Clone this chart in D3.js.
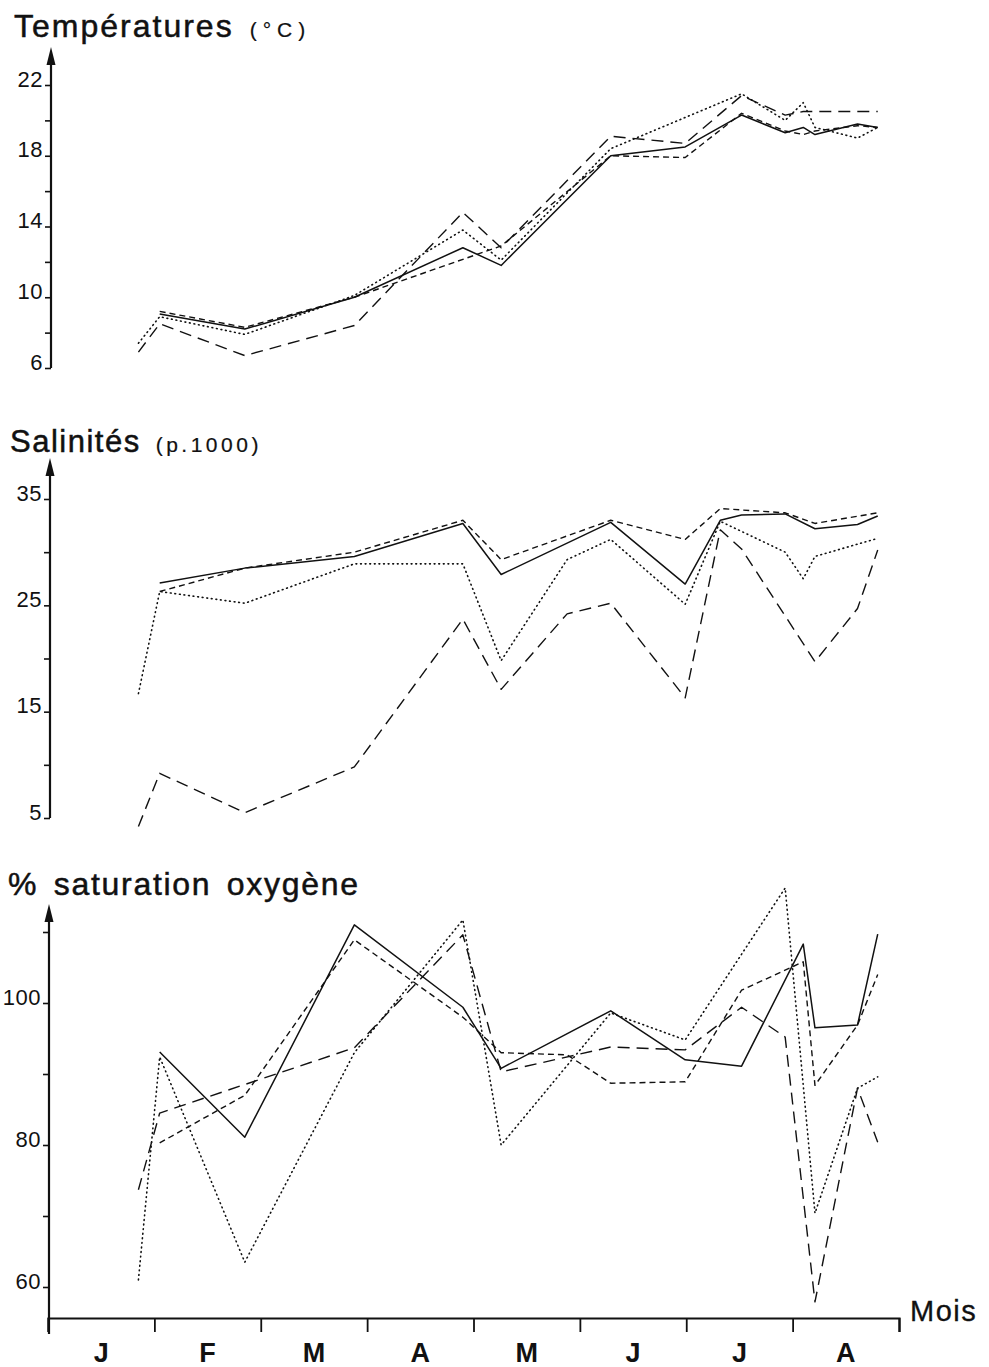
<!DOCTYPE html>
<html><head><meta charset="utf-8">
<script src="https://cdn.jsdelivr.net/npm/d3@7"></script>
<style>
body{margin:0;background:#fff}
svg{display:block}
text{font-family:"Liberation Sans",Arial,Helvetica,sans-serif;fill:#111}
</style>
</head><body>
<svg id="c" width="989" height="1367"></svg>
<script>
// Months on the time axis
const months = ["J","F","M","A","M","J","J","A"];
// Sampling dates, in months from 1 January
const sampleMonths = [0.85,1.05,1.85,2.88,3.90,4.26,4.88,5.29,5.99,6.32,6.52,6.93,7.10,7.21,7.61,7.80];

// Temperatures (°C)
const tempSolid  = [null,9.05,8.2,10.0,12.8,11.8,null,18.0,18.5,null,20.3,19.3,19.6,19.2,19.8,19.6];
const tempShort  = [null,9.2,8.3,10.0,null,12.9,null,18.0,17.9,null,20.4,19.4,19.2,19.4,19.7,19.6];
const tempLong   = [6.9,8.5,6.7,8.4,14.8,12.8,null,19.1,18.7,null,21.4,20.3,20.5,null,null,20.5];
const tempDotted = [7.4,8.9,7.9,10.1,13.8,12.1,null,18.4,null,null,21.5,20.0,21.0,19.6,19.0,19.6];
const tempTicks = [6,10,14,18,22];
const tempMinor = [8,12,16,20];

// Salinities (p.1000)
const salSolid  = [null,27.1,28.5,29.6,32.7,27.9,null,32.8,27.0,33.0,33.5,33.6,null,32.2,32.6,33.4];
const salShort  = [null,26.3,28.5,30.0,33.0,29.3,null,33.0,31.2,34.1,null,33.7,null,32.7,null,33.7];
const salDotted = [16.7,26.3,25.2,28.9,28.9,19.8,29.3,31.2,25.1,32.9,null,30.0,27.5,29.6,null,31.3];
const salLong   = [4.2,9.2,5.5,9.8,23.7,17.1,24.2,25.2,16.3,32.1,30.3,null,null,19.7,24.7,30.2];
const salTicks = [5,15,25,35];
const salMinor = [10,20,30];

// % saturation oxygène
const oxySolid  = [null,93.1,81.1,111.0,99.4,90.8,null,98.9,92.0,null,91.1,null,108.3,96.5,96.9,109.7];
const oxyShort  = [null,80.3,87.0,108.9,98.0,93.0,92.7,88.7,88.9,null,101.8,null,105.8,88.4,96.9,104.0];
const oxyLong   = [73.7,84.5,null,93.7,109.6,90.3,null,93.8,93.4,null,99.4,95.2,null,57.9,88.0,80.4];
const oxyDotted = [61.0,92.4,63.5,93.0,111.7,80.0,null,98.6,94.8,null,null,116.2,null,70.4,88.0,89.6];
const oxyTicks = [60,80,100];
const oxyMinor = [70,90,110];

const svg = d3.select("#c");
const x = d3.scaleLinear().domain([0, months.length]).range([48, 899]);

const styles = {
  solid:  {dash: null,    w: 1.5, cap: "butt"},
  short:  {dash: "6,4",   w: 1.4, cap: "butt"},
  long:   {dash: "12,7",  w: 1.4, cap: "butt"},
  dotted: {dash: "0.8,3.8", w: 1.6, cap: "round"}
};

function panel(cfg) {
  const y = d3.scaleLinear().domain(cfg.domain).range(cfg.range);
  const g = svg.append("g");
  g.append("line").attr("x1", cfg.ax).attr("x2", cfg.ax)
    .attr("y1", cfg.axisBottom).attr("y2", cfg.arrowTip + 12)
    .attr("stroke", "#111").attr("stroke-width", 2.2);
  g.append("path")
    .attr("d", `M${cfg.ax},${cfg.arrowTip} L${cfg.ax-4.5},${cfg.arrowTip+18} L${cfg.ax+4.5},${cfg.arrowTip+18} Z`)
    .attr("fill", "#111");
  const major = g.append("g").attr("transform", `translate(${cfg.ax},0)`)
    .call(d3.axisLeft(y).tickValues(cfg.ticks).tickSize(6).tickPadding(2).tickFormat(d3.format("d")));
  major.attr("font-size", 22).attr("font-family", "Liberation Sans, Arial, sans-serif");
  major.select(".domain").remove();
  major.selectAll(".tick line").attr("stroke", "#111").attr("stroke-width", 1.6);
  major.selectAll(".tick text").attr("dy", "0.05em").attr("fill", "#111")
    .style("font-size", "22px").attr("letter-spacing", 0.5);
  const minor = g.append("g").attr("transform", `translate(${cfg.ax},0)`)
    .call(d3.axisLeft(y).tickValues(cfg.minor).tickSize(6).tickFormat(""));
  minor.select(".domain").remove();
  minor.selectAll(".tick line").attr("stroke", "#111").attr("stroke-width", 1.6);

  const line = d3.line().x(d => x(d.m)).y(d => y(d.v));
  cfg.series.forEach(s => {
    const data = sampleMonths.map((m, i) => ({m, v: s.values[i]})).filter(d => d.v != null);
    const st = styles[s.style];
    g.append("path").datum(data).attr("d", line)
      .attr("fill", "none").attr("stroke", "#111")
      .attr("stroke-width", st.w).attr("stroke-linecap", st.cap)
      .attr("stroke-linejoin", "round")
      .attr("stroke-dasharray", st.dash);
  });
  const t = g.append("text").attr("x", cfg.titleX).attr("y", cfg.titleY)
    .attr("stroke", "#111").attr("stroke-width", 0.5);
  t.append("tspan").style("font-size", cfg.titleSize + "px").attr("letter-spacing", cfg.titleSpacing)
    .attr("word-spacing", cfg.wordSpacing || 0).text(cfg.title);
  if (cfg.unit) t.append("tspan").style("font-size", "21px").attr("stroke-width", 0.2)
    .attr("letter-spacing", cfg.unitSpacing).attr("dx", cfg.unitDx).text(cfg.unit);
  return y;
}

panel({domain:[6,22], range:[368,85], ax:51, axisBottom:368, arrowTip:47,
  ticks: tempTicks, minor: tempMinor, title: "Températures", titleSize: 32, titleSpacing: 2,
  unit: "(°C)", unitDx: 16, unitSpacing: 6,
  titleX: 14, titleY: 37,
  series: [{values: tempSolid, style:"solid"},{values: tempShort, style:"short"},
           {values: tempLong, style:"long"},{values: tempDotted, style:"dotted"}]});

panel({domain:[5,35], range:[818,499], ax:50, axisBottom:818, arrowTip:458,
  ticks: salTicks, minor: salMinor, title: "Salinités", titleSize: 31, titleSpacing: 1.5,
  unit: "(p.1000)", unitDx: 15, unitSpacing: 3.5,
  titleX: 10, titleY: 452,
  series: [{values: salSolid, style:"solid"},{values: salShort, style:"short"},
           {values: salLong, style:"long"},{values: salDotted, style:"dotted"}]});

panel({domain:[60,100], range:[1287,1003], ax:49, axisBottom:1334, arrowTip:904,
  ticks: oxyTicks, minor: oxyMinor, title: "% saturation oxygène", titleSize: 32, titleSpacing: 1.7,
  unit: null, wordSpacing: 5,
  titleX: 8, titleY: 895,
  series: [{values: oxySolid, style:"solid"},{values: oxyShort, style:"short"},
           {values: oxyLong, style:"long"},{values: oxyDotted, style:"dotted"}]});

const xa = svg.append("g").attr("transform", "translate(0,1318)")
  .call(d3.axisBottom(x).tickValues(d3.range(0, months.length + 1)).tickSize(14).tickFormat(""));
xa.select(".domain").attr("stroke", "#111").attr("stroke-width", 2.2);
xa.selectAll(".tick line").attr("stroke", "#111").attr("stroke-width", 1.8);

svg.append("g").selectAll("text").data(months).join("text")
  .attr("x", (d, i) => x(i + 0.5)).attr("y", 1362)
  .attr("text-anchor", "middle").style("font-size", "27px").attr("font-weight", "bold")
  .text(d => d);

svg.append("text").attr("x", 910).attr("y", 1321).style("font-size", "29px")
  .attr("letter-spacing", 1.5).attr("stroke", "#111").attr("stroke-width", 0.3).text("Mois");
</script>
</body></html>
